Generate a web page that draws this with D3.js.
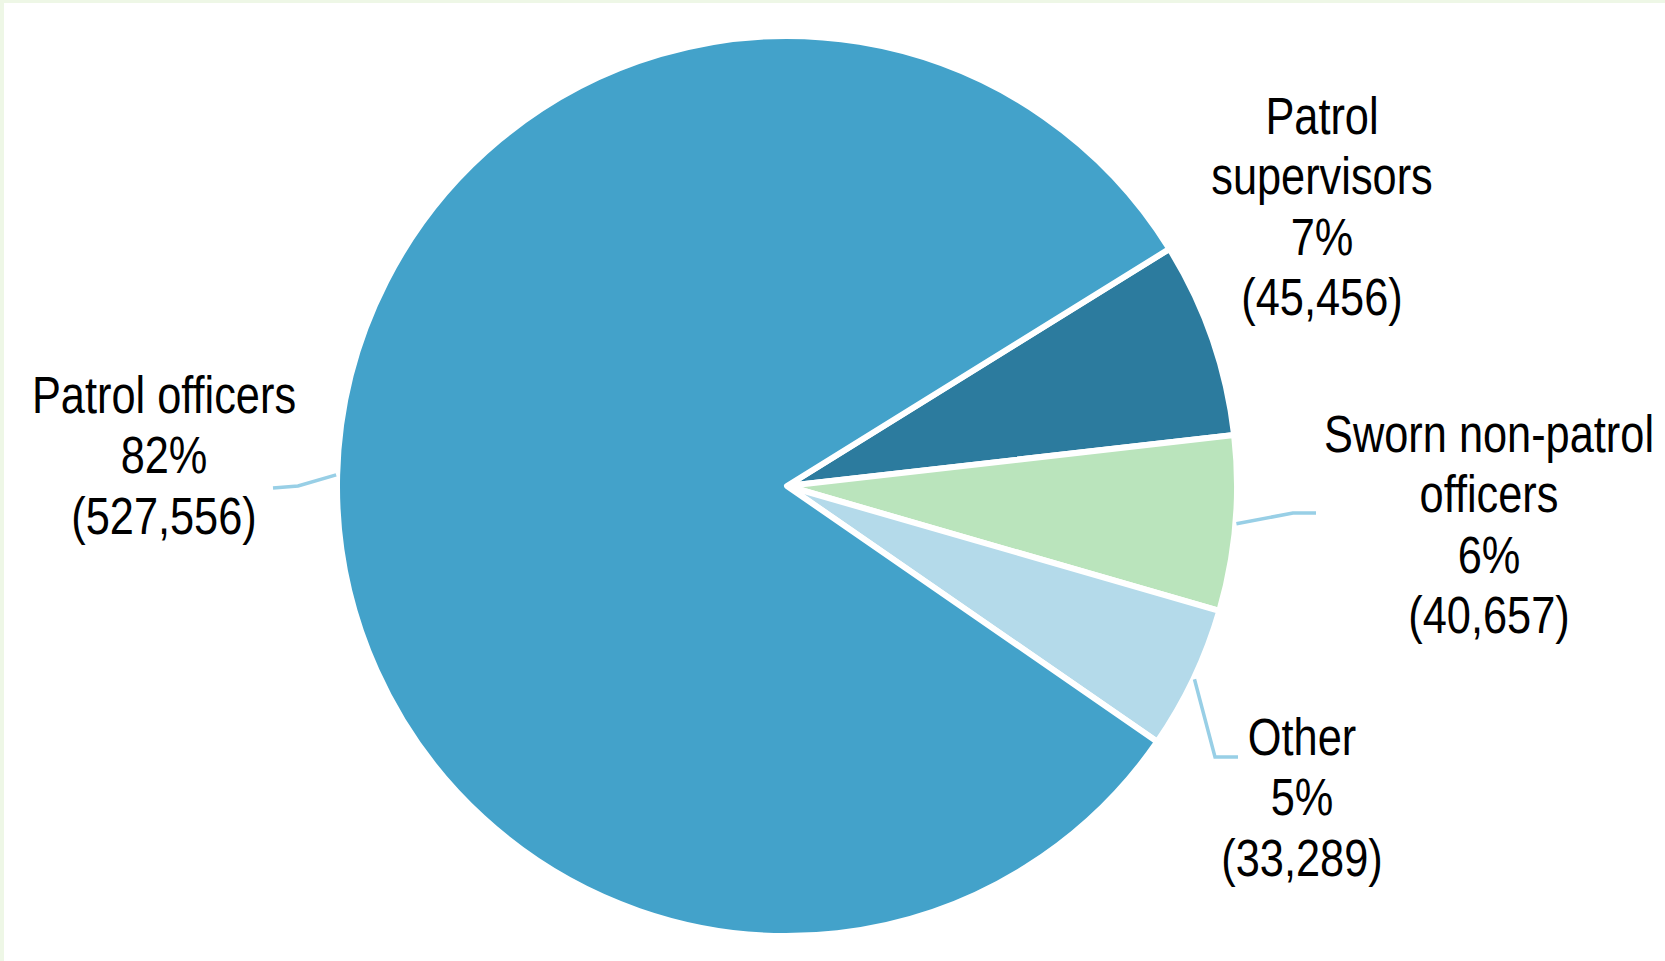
<!DOCTYPE html>
<html>
<head>
<meta charset="utf-8">
<script src="https://cdn.jsdelivr.net/npm/d3@7"></script>
<style>
  html, body { margin: 0; padding: 0; background: #ffffff; }
  svg { display: block; }
  text { font-family: "Liberation Sans", Arial, sans-serif; fill: #000; }
</style>
</head>
<body>
<svg id="chart" width="1665" height="961"></svg>
<script>
// Sworn officer workforce by assignment
const categories = ["Patrol supervisors", "Sworn non-patrol officers", "Other", "Patrol officers"];
const labelLines = [["Patrol", "supervisors"], ["Sworn non-patrol", "officers"], ["Other"], ["Patrol officers"]];
const counts = [45456, 40657, 33289, 527556];
const percentLabels = ["7%", "6%", "5%", "82%"];
const colors = ["#2c7b9e", "#bae4bc", "#b4daea", "#43a2ca"];

// Layout for the labels: centre x, first baseline, and optional leader elbow
const labelLayout = [
  { x: 1322, y: 134, leader: null },
  { x: 1489, y: 452, leader: { elbow: [1293, 513], end: [1316, 513] } },
  { x: 1302, y: 755, leader: { elbow: [1215, 757], end: [1238, 757] } },
  { x: 164,  y: 413, leader: { elbow: [298, 486], end: [273, 488] } }
];

const W = 1665, H = 961;
const cx = 787, cy = 486, R = 450;
const lineH = 60.5;
const narrow = 0.85; // horizontal squeeze for a condensed look
const fmt = d3.format(",");

const svg = d3.select("#chart");

// Thin pale frame along the top and left edges
svg.append("rect").attr("x", 0).attr("y", 0).attr("width", W).attr("height", 3).attr("fill", "#eef7e6");
svg.append("rect").attr("x", 0).attr("y", 0).attr("width", 4).attr("height", H).attr("fill", "#eef7e6");

const pie = d3.pie()
  .sort(null)
  .value(d => d)
  .startAngle(58.2 * Math.PI / 180)
  .endAngle(58.2 * Math.PI / 180 + 2 * Math.PI);

const arcs = pie(counts);
const arc = d3.arc().innerRadius(0).outerRadius(R);

const g = svg.append("g").attr("transform", `translate(${cx},${cy})`);

g.selectAll("path.slice")
  .data(arcs)
  .join("path")
  .attr("class", "slice")
  .attr("d", arc)
  .attr("fill", (d, i) => colors[i])
  .attr("stroke", "#ffffff")
  .attr("stroke-width", 6)
  .attr("stroke-linejoin", "round");

// Leader lines start just outside the slice at its mid-angle
arcs.forEach((a, i) => {
  const lay = labelLayout[i];
  if (!lay.leader) return;
  const mid = (a.startAngle + a.endAngle) / 2;
  const sx = cx + (R + 1) * Math.sin(mid);
  const sy = cy - (R + 1) * Math.cos(mid);
  svg.append("path")
    .attr("d", d3.line()([[sx, sy], lay.leader.elbow, lay.leader.end]))
    .attr("fill", "none")
    .attr("stroke", "#98cfe6")
    .attr("stroke-width", 3.5);
});

// Labels: name lines, percent, and count in parentheses
arcs.forEach((a, i) => {
  const lay = labelLayout[i];
  const lines = labelLines[i].concat([percentLabels[i], "(" + fmt(counts[i]) + ")"]);
  const t = svg.append("text")
    .attr("text-anchor", "middle")
    .attr("font-size", 51)
    .attr("transform", `translate(${lay.x},0) scale(${narrow},1)`);
  lines.forEach((s, k) => {
    t.append("tspan")
      .attr("x", 0)
      .attr("y", lay.y + k * lineH)
      .text(s);
  });
});
</script>
</body>
</html>
